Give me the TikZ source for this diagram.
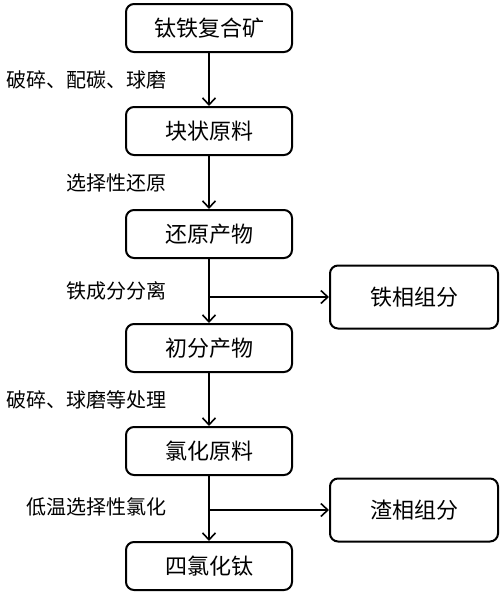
\documentclass[tikz,border=0pt]{standalone}
\usepackage{fontspec}
\newfontfamily\cjk{Noto Sans CJK SC}
\usetikzlibrary{arrows.meta}
\tikzset{
    box/.style={draw, line width=2pt, rounded corners=8pt, minimum width=166pt, minimum height=48pt, inner sep=0pt, font=\cjk\fontsize{22}{26}\selectfont},
    side/.style={box, minimum width=168pt, minimum height=63pt},
    lbl/.style={anchor=east, inner sep=0pt, font=\cjk\fontsize{20}{24}\selectfont},
    arr/.style={line width=1.6pt, -{Straight Barb[length=7pt,width=13pt,line width=1.6pt]}}
}
\begin{document}
\begin{tikzpicture}[x=1pt,y=-1pt]
        \useasboundingbox (0,0) rectangle (500,595);
        % main line
        \foreach \n/\y/\t in {1/28/钛铁复合矿, 2/131/块状原料, 3/234/还原产物, 4/348/初分产物, 5/451/氯化原料, 6/566/四氯化钛}{
            \node[box] (b\n) at (209,\y) {\t};
        }
        \foreach \a/\b/\y/\t in {1/2/80/破碎、配碳、球磨, 2/3/183/选择性还原, 3/4/291/铁成分分离, 4/5/400/破碎、球磨等处理, 5/6/507/低温选择性氯化}{
            \draw[arr] (b\a.south) -- (b\b.north);
            \node[lbl] (l\a) at (167,\y) {\t};
        }
        % side products
        \node[side] (fe) at (414,297) {铁相组分};
        \node[side] (slag) at (414,510) {渣相组分};
        \coordinate (j1) at (b3.south |- fe.west);
        \coordinate (j2) at (b5.south |- slag.west);
        \draw[arr] (j1) -- (fe.west);
        \draw[arr] (j2) -- (slag.west);
    \end{tikzpicture}
\end{document}
